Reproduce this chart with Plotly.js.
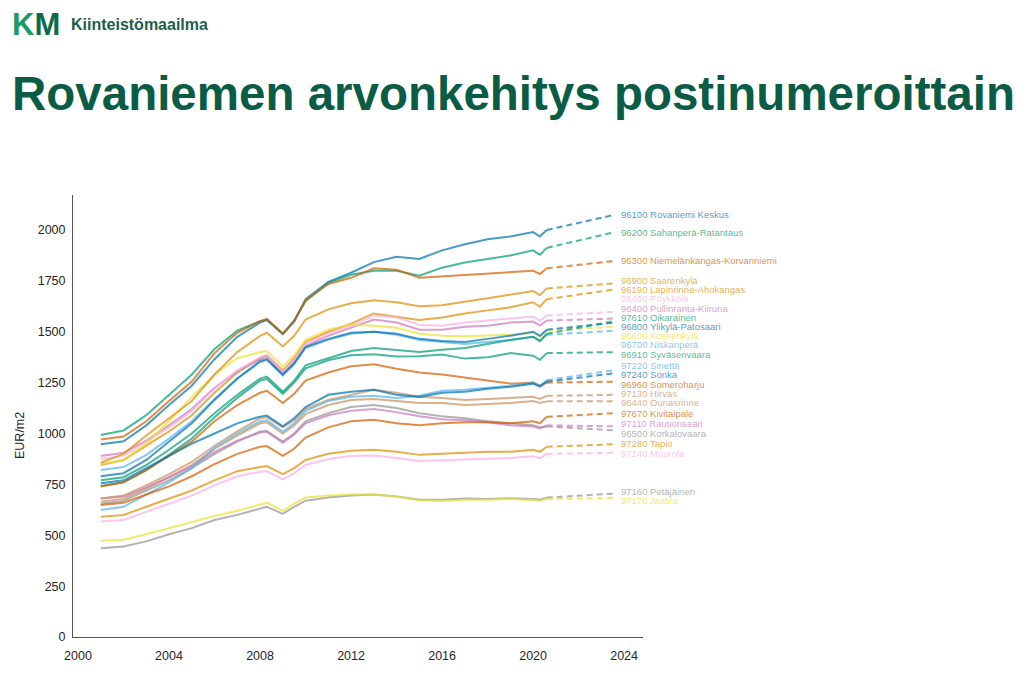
<!DOCTYPE html>
<html>
<head>
<meta charset="utf-8">
<script src="https://cdn.plot.ly/plotly-3.0.1.min.js"></script>
<style>html,body{margin:0;padding:0;background:#fff;}#chart{width:1028px;height:686px;}</style>
</head>
<body>
<div id="chart"></div>
<script>
// ---- data ----
const years = [2001, 2002, 2003, 2004, 2005, 2006, 2007, 2008, 2008.3, 2009, 2009.5, 2010, 2011, 2012, 2013, 2014, 2015, 2016, 2017, 2018, 2019, 2020, 2020.3, 2020.6];
const forecastYears = [2020.6, 2023.6];

const codes = ['96100','96190','96200','96300','96400','96440','96460','96500','96600','96700','96800','96900','96910','96960','97110','97130','97140','97160','97170','97220','97240','97280','97610','97670'];
const names = ['Rovaniemi Keskus','Lapinrinne-Ahokangas','Sahanperä-Ratantaus','Niemelänkangas-Korvanniemi','Pullinranta-Kiiruna','Ounasrinne','Pöykkölä','Korkalovaara','Koskenkylä','Niskanperä','Ylikylä-Patosaari','Saarenkylä','Syväsenvaara','Someroharju','Rautionsaari','Hirvas','Muurola','Petäjäinen','Jaatila','Sinettä','Sonka','Tapio','Oikarainen','Kivitaipale'];

const p96100 = [947, 962, 1040, 1140, 1235, 1365, 1475, 1545, 1558, 1488, 1550, 1660, 1745, 1790, 1842, 1868, 1858, 1900, 1930, 1955, 1968, 1990, 1968, 2000];
const p96190 = [845, 870, 940, 1010, 1090, 1200, 1300, 1370, 1385, 1310, 1370, 1450, 1500, 1540, 1590, 1575, 1558, 1570, 1590, 1605, 1620, 1645, 1623, 1660];
const p96200 = [993, 1015, 1090, 1190, 1290, 1415, 1505, 1552, 1560, 1490, 1555, 1650, 1740, 1780, 1800, 1800, 1775, 1815, 1840, 1858, 1875, 1900, 1878, 1912];
const p96300 = [971, 985, 1060, 1160, 1255, 1395, 1495, 1552, 1563, 1492, 1553, 1655, 1735, 1765, 1812, 1805, 1765, 1772, 1780, 1788, 1795, 1800, 1784, 1812];
const p96400 = [889, 905, 965, 1040, 1120, 1225, 1305, 1365, 1378, 1295, 1350, 1430, 1480, 1520, 1560, 1545, 1510, 1510, 1525, 1530, 1545, 1550, 1530, 1555];
const p96440 = [665, 680, 730, 785, 845, 925, 990, 1050, 1055, 1000, 1040, 1095, 1140, 1165, 1170, 1160, 1150, 1150, 1140, 1145, 1150, 1160, 1150, 1158];
const p96460 = [875, 890, 960, 1030, 1110, 1220, 1310, 1375, 1385, 1300, 1360, 1440, 1490, 1530, 1580, 1570, 1535, 1530, 1545, 1555, 1565, 1575, 1555, 1580];
const p96500 = [655, 670, 720, 770, 830, 900, 960, 1010, 1012, 960, 1000, 1060, 1100, 1130, 1140, 1125, 1100, 1085, 1075, 1060, 1050, 1040, 1030, 1035];
const p96600 = [850, 870, 950, 1060, 1180, 1290, 1370, 1400, 1405, 1330, 1385, 1460, 1510, 1535, 1530, 1520, 1490, 1480, 1478, 1480, 1485, 1495, 1475, 1505];
const p96700 = [821, 835, 895, 975, 1060, 1170, 1270, 1350, 1362, 1285, 1340, 1420, 1460, 1490, 1500, 1485, 1460, 1450, 1440, 1450, 1460, 1475, 1455, 1485];
const p96800 = [790, 805, 870, 960, 1050, 1165, 1270, 1355, 1365, 1290, 1345, 1425, 1465, 1495, 1500, 1490, 1465, 1455, 1450, 1465, 1480, 1500, 1480, 1510];
const p96900 = [856, 900, 990, 1075, 1160, 1290, 1400, 1480, 1495, 1428, 1480, 1560, 1610, 1640, 1655, 1645, 1625, 1630, 1648, 1664, 1681, 1700, 1680, 1713];
const p96910 = [742, 760, 820, 895, 975, 1080, 1175, 1260, 1268, 1195, 1250, 1320, 1360, 1385, 1390, 1378, 1380, 1388, 1368, 1375, 1395, 1382, 1362, 1395];
const p96960 = [740, 760, 820, 890, 960, 1060, 1140, 1200, 1210, 1150, 1195, 1260, 1300, 1330, 1340, 1318, 1300, 1290, 1275, 1262, 1245, 1250, 1235, 1250];
const p97110 = [681, 690, 735, 785, 840, 910, 965, 1005, 1008, 955, 995, 1050, 1090, 1112, 1120, 1105, 1085, 1070, 1065, 1055, 1040, 1035, 1025, 1040];
const p97130 = [681, 695, 745, 800, 860, 940, 1010, 1075, 1080, 1030, 1065, 1120, 1165, 1190, 1215, 1200, 1180, 1175, 1165, 1170, 1175, 1180, 1170, 1185];
const p97140 = [567, 575, 615, 655, 695, 745, 790, 812, 815, 775, 805, 845, 875, 890, 892, 880, 865, 868, 872, 878, 880, 888, 878, 900];
const p97160 = [436, 445, 470, 505, 535, 575, 600, 630, 640, 605, 640, 670, 685, 695, 700, 690, 675, 675, 680, 678, 682, 678, 675, 685];
const p97170 = [473, 478, 505, 535, 565, 595, 620, 650, 660, 620, 655, 685, 695, 700, 700, 690, 672, 668, 675, 675, 678, 672, 670, 678];
const p97220 = [624, 640, 700, 760, 830, 930, 1000, 1060, 1065, 1010, 1050, 1110, 1160, 1180, 1185, 1175, 1185, 1210, 1215, 1225, 1235, 1250, 1235, 1262];
const p97240 = [755, 770, 830, 890, 950, 1000, 1050, 1083, 1088, 1035, 1075, 1130, 1190, 1205, 1215, 1190, 1180, 1200, 1205, 1220, 1230, 1245, 1230, 1255];
const p97280 = [591, 600, 640, 680, 720, 770, 815, 835, 840, 800, 830, 870, 900, 915, 920, 910, 895, 900, 905, 910, 910, 920, 910, 935];
const p97610 = [770, 785, 845, 920, 1000, 1100, 1190, 1270, 1280, 1205, 1260, 1335, 1370, 1405, 1420, 1410, 1400, 1412, 1420, 1440, 1460, 1475, 1455, 1490];
const p97670 = [649, 660, 700, 740, 790, 850, 900, 935, 938, 890, 925, 980, 1030, 1060, 1068, 1050, 1040, 1050, 1055, 1055, 1050, 1060, 1050, 1082];

const history = [p96100, p96190, p96200, p96300, p96400, p96440, p96460, p96500, p96600, p96700, p96800, p96900, p96910, p96960, p97110, p97130, p97140, p97160, p97170, p97220, p97240, p97280, p97610, p97670];
const forecast2023 = [2075, 1708, 1990, 1848, 1565, 1158, 1598, 1015, 1525, 1505, 1545, 1738, 1400, 1255, 1035, 1190, 905, 705, 683, 1312, 1296, 947, 1553, 1100];

const yTicks = [0, 250, 500, 750, 1000, 1250, 1500, 1750, 2000];
const xTicks = [2000, 2004, 2008, 2012, 2016, 2020, 2024];

// ---- style ----
const palette = ['1,115,178','222,143,5','2,158,115','213,94,0','204,120,188','202,145,97','251,175,228','148,148,148','236,225,51','86,180,233'];
const alpha = 0.72;
const FONT = 'Liberation Sans, Arial, Helvetica, sans-serif';
const Y_RANGE = [0, 2172];
const PLOT_H = 442;

const traces = [];
history.forEach((vals, i) => {
  const col = 'rgba(' + palette[i % palette.length] + ',' + alpha + ')';
  traces.push({x: years, y: vals, mode: 'lines', line: {color: col, width: 2}, hoverinfo: 'skip', showlegend: false});
  traces.push({x: forecastYears, y: [vals[vals.length - 1], forecast2023[i]], mode: 'lines',
    line: {color: col, width: 2, dash: '6px,4px'}, hoverinfo: 'skip', showlegend: false});
});

// label placement: avoid overlaps
const gap = 9.2 * (Y_RANGE[1] - Y_RANGE[0]) / PLOT_H;
const order = forecast2023.map((v, i) => i).sort((a, b) => forecast2023[b] - forecast2023[a]);
let clusters = order.map(i => ({ids: [i], sum: -forecast2023[i]}));
const startOf = c => c.sum / c.ids.length - (c.ids.length - 1) * gap / 2;
let merged = true;
while (merged) {
  merged = false;
  for (let k = 0; k < clusters.length - 1; k++) {
    const a = clusters[k], b = clusters[k + 1];
    if (startOf(a) + a.ids.length * gap > startOf(b)) {
      clusters.splice(k, 2, {ids: a.ids.concat(b.ids), sum: a.sum + b.sum});
      merged = true;
      break;
    }
  }
}
const annotations = [];
clusters.forEach(c => {
  const s = startOf(c);
  c.ids.forEach((i, j) => {
    annotations.push({x: forecastYears[1], y: -(s + j * gap), xref: 'x', yref: 'y', xanchor: 'left', yanchor: 'middle',
      xshift: 5, showarrow: false, borderpad: 0, text: codes[i] + ' ' + names[i],
      font: {family: FONT, size: 9.5, color: 'rgba(' + palette[i % palette.length] + ',' + alpha + ')'}});
  });
});

// branding
annotations.push({xref: 'paper', yref: 'paper', x: -73/570, y: 1 + (195-24)/442, xanchor: 'left', yanchor: 'middle', showarrow: false,
  text: '<span style="color:#1a9a66">K</span><span style="color:#0d6a4d">M</span>', font: {family: FONT, size: 31, weight: 'bold', color: '#0d6a4d'}, xshift: 10});
annotations.push({xref: 'paper', yref: 'paper', x: -73/570, y: 1 + (195-24)/442, xanchor: 'left', yanchor: 'middle', showarrow: false,
  text: 'Kiinteistömaailma', font: {family: FONT, size: 16, weight: 'bold', color: '#1d5e4a'}, xshift: 69});
// y axis title
annotations.push({xref: 'paper', yref: 'paper', x: -73/570, y: (637-436)/442, xanchor: 'center', yanchor: 'middle', showarrow: false,
  text: 'EUR/m2', textangle: -90, font: {family: FONT, size: 12.5, color: '#262626'}, xshift: 20});

const layout = {
  width: 1028, height: 686,
  margin: {l: 73, r: 385, t: 195, b: 49, pad: 0},
  paper_bgcolor: '#fff', plot_bgcolor: '#fff',
  showlegend: false,
  title: {text: 'Rovaniemen arvonkehitys postinumeroittain', x: 12/1028, xanchor: 'left', xref: 'container',
    y: 1 - 93/686, yanchor: 'middle', yref: 'container',
    font: {family: FONT, size: 47.5, weight: 'bold', color: '#0b5c45'}},
  xaxis: {range: [1999.78, 2024.83], tickvals: xTicks, ticktext: xTicks.map(String), showgrid: false, zeroline: false,
    showline: true, linecolor: '#555', linewidth: 1, ticks: '', ticklabelstandoff: 7, tickfont: {family: FONT, size: 12.5, color: '#262626'}},
  yaxis: {range: Y_RANGE, tickvals: yTicks, ticktext: yTicks.map(String), showgrid: false, zeroline: false,
    showline: true, linecolor: '#555', linewidth: 1, ticks: '', ticklabelstandoff: 4, tickfont: {family: FONT, size: 12.5, color: '#262626'}},
  annotations: annotations
};

Plotly.newPlot('chart', traces, layout, {staticPlot: true, displayModeBar: false});
</script>
</body>
</html>
